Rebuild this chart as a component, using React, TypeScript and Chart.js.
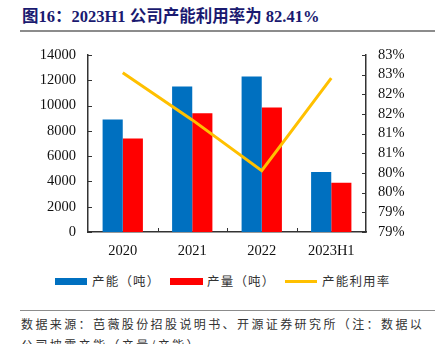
import React, { useEffect, useRef } from 'react';
import { Chart, registerables } from 'chart.js';

Chart.register(...registerables);

const titleText = '图16：2023H1 公司产能利用率为 82.41%';
const categories = ['2020', '2021', '2022', '2023H1'];
const capacityLabel = '产能（吨）';
const outputLabel = '产量（吨）';
const utilLabel = '产能利用率';
const capacity = [8900, 11500, 12300, 4750];
const output = [7400, 9400, 9850, 3900];
const utilization = [82.55, 81.35, 80.06, 82.41];
const footerLine1 = '数据来源：芭薇股份招股说明书、开源证券研究所（注：数据以';
const footerLine2 = '公司披露产能（产量/产能）';

const SERIF = "'Liberation Serif', 'Times New Roman', 'Noto Sans CJK SC', serif";
const CJK = "'Noto Sans CJK SC', 'Liberation Serif', sans-serif";
const BLUE = '#0070C0';
const RED = '#FF0000';
const YELLOW = '#FFC000';

export default function App() {
  const ref = useRef<HTMLCanvasElement>(null);

  useEffect(() => {
    document.body.style.margin = '0';
    const canvas = ref.current;
    if (!canvas) return;

    const tickPlugin = {
      id: 'inwardTicks',
      afterDraw(chart: any) {
        const { ctx, chartArea, scales } = chart;
        const { left, right, bottom } = chartArea;
        ctx.save();
        ctx.strokeStyle = '#333';
        ctx.lineWidth = 1;
        const line = (x1: number, y1: number, x2: number, y2: number) => {
          ctx.beginPath();
          ctx.moveTo(x1, y1);
          ctx.lineTo(x2, y2);
          ctx.stroke();
        };
        const ys = scales.y;
        ys.ticks.forEach((_: any, i: number) => {
          const py = Math.round(ys.getPixelForTick(i)) + 0.5;
          line(left, py, left + 4, py);
        });
        const y1 = scales.y1;
        y1.ticks.forEach((_: any, i: number) => {
          const py = Math.round(y1.getPixelForTick(i)) + 0.5;
          line(right - 4, py, right, py);
        });
        const n = categories.length;
        for (let i = 1; i < n; i++) {
          const x = Math.round(left + ((right - left) * i) / n) + 0.5;
          line(x, bottom, x, bottom - 4);
        }
        ctx.restore();
      },
    };

    const chart = new Chart(canvas, {
      type: 'bar',
      data: {
        labels: categories,
        datasets: [
          {
            type: 'line',
            label: utilLabel,
            data: utilization,
            yAxisID: 'y1',
            borderColor: YELLOW,
            backgroundColor: YELLOW,
            borderWidth: 3,
            pointRadius: 0,
            tension: 0,
            order: 0,
          } as any,
          {
            label: capacityLabel,
            data: capacity,
            backgroundColor: BLUE,
            yAxisID: 'y',
            categoryPercentage: 0.58,
            barPercentage: 1,
            order: 1,
          },
          {
            label: outputLabel,
            data: output,
            backgroundColor: RED,
            yAxisID: 'y',
            categoryPercentage: 0.58,
            barPercentage: 1,
            order: 1,
          },
        ],
      },
      options: {
        responsive: false,
        animation: false,
        devicePixelRatio: 1,
        layout: { padding: { top: 15, left: 0, right: 0, bottom: 0 } },
        plugins: {
          legend: { display: false },
          tooltip: { enabled: false },
          title: { display: false },
        },
        scales: {
          x: {
            grid: { display: false, drawTicks: false },
            border: { display: true, color: '#333', width: 1.5 },
            ticks: {
              padding: 10,
              color: '#111',
              font: { family: SERIF, size: 14.5 },
            },
            afterFit(scale: any) {
              scale.height = 38;
            },
          },
          y: {
            position: 'left',
            min: 0,
            max: 14000,
            grid: { display: false, drawTicks: false },
            border: { display: true, color: '#333', width: 1.5 },
            ticks: {
              stepSize: 2000,
              autoSkip: false,
              padding: 12,
              color: '#111',
              font: { family: SERIF, size: 14.5 },
              callback: (v: any) => String(v),
            },
            afterFit(scale: any) {
              scale.width = 88;
              scale.paddingTop = 0;
              scale.paddingBottom = 0;
            },
          },
          y1: {
            position: 'right',
            min: 78.5,
            max: 83,
            grid: { display: false, drawTicks: false },
            border: { display: true, color: '#333', width: 1.5 },
            ticks: {
              stepSize: 0.5,
              autoSkip: false,
              padding: 12,
              color: '#111',
              font: { family: SERIF, size: 14.5 },
              callback: (v: any) => Math.round(Number(v)) + '%',
            },
            afterFit(scale: any) {
              scale.width = 69;
              scale.paddingTop = 0;
              scale.paddingBottom = 0;
            },
          },
        },
      },
      plugins: [tickPlugin],
    });

    return () => chart.destroy();
  }, []);

  const legendText: React.CSSProperties = {
    position: 'absolute',
    top: 272,
    height: 18,
    lineHeight: '18px',
    fontFamily: CJK,
    fontSize: 12.5,
    letterSpacing: 1.2,
    color: '#333',
    whiteSpace: 'nowrap',
  };

  return (
    <div
      style={{
        position: 'fixed',
        left: 0,
        top: 0,
        width: 435,
        height: 344,
        overflow: 'hidden',
        background: '#fff',
      }}
    >
      <div
        style={{
          position: 'absolute',
          left: 22,
          top: 6,
          height: 22,
          lineHeight: '22px',
          fontFamily: SERIF,
          fontWeight: 'bold',
          fontSize: 16.5,
          color: '#1a1a70',
          whiteSpace: 'nowrap',
        }}
      >
        {titleText}
      </div>
      <div
        style={{
          position: 'absolute',
          left: 20,
          right: 0,
          top: 30,
          height: 2,
          background: '#8c8c8c',
        }}
      />
      <canvas
        ref={ref}
        width={435}
        height={230}
        style={{ position: 'absolute', left: 0, top: 40, width: 435, height: 230 }}
      />
      <div style={{ position: 'absolute', left: 55, top: 278, width: 32, height: 7, background: BLUE }} />
      <div style={{ ...legendText, left: 92 }}>{capacityLabel}</div>
      <div style={{ position: 'absolute', left: 170, top: 278, width: 33, height: 7, background: RED }} />
      <div style={{ ...legendText, left: 207 }}>{outputLabel}</div>
      <div style={{ position: 'absolute', left: 285, top: 280, width: 32, height: 3, background: YELLOW }} />
      <div style={{ ...legendText, left: 322 }}>{utilLabel}</div>
      <div
        style={{
          position: 'absolute',
          left: 20,
          right: 0,
          top: 310,
          height: 1,
          background: '#8c8c8c',
        }}
      />
      <div
        style={{
          position: 'absolute',
          left: 21,
          top: 313,
          fontFamily: CJK,
          fontSize: 12,
          letterSpacing: 2.4,
          lineHeight: '21px',
          color: '#333',
          whiteSpace: 'nowrap',
        }}
      >
        <div>{footerLine1}</div>
        <div>{footerLine2}</div>
      </div>
    </div>
  );
}
